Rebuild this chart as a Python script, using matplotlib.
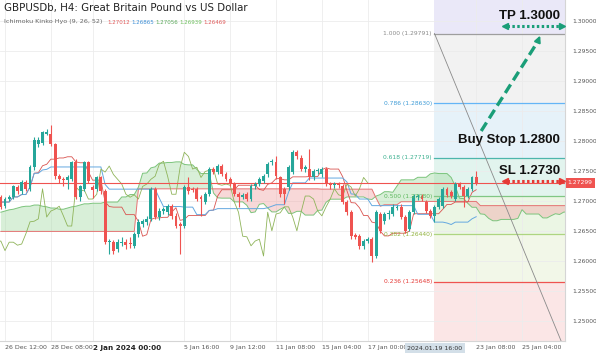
import numpy as np
import pandas as pd
import matplotlib.pyplot as plt

# H4 candles, 26 Dec 2023 .. 23 Jan 2024
opens = [1.2706, 1.2691, 1.2703, 1.2706, 1.2723, 1.2716, 1.2731, 1.2720, 1.2756, 1.2794,
         1.2797, 1.2812, 1.2811, 1.2794, 1.2741, 1.2736, 1.2734, 1.2736, 1.2764, 1.2706,
         1.2719, 1.2764, 1.2723, 1.2720, 1.2739, 1.2716, 1.2631, 1.2631, 1.2620, 1.2630,
         1.2631, 1.2630, 1.2625, 1.2645, 1.2661, 1.2665, 1.2670, 1.2720, 1.2673, 1.2683,
         1.2681, 1.2691, 1.2675, 1.2661, 1.2658, 1.2723, 1.2720, 1.2720, 1.2706, 1.2698,
         1.2711, 1.2753, 1.2748, 1.2758, 1.2744, 1.2736, 1.2728, 1.2711, 1.2706, 1.2711,
         1.2703, 1.2724, 1.2728, 1.2733, 1.2744, 1.2764, 1.2764, 1.2739, 1.2720, 1.2723,
         1.2748, 1.2781, 1.2772, 1.2753, 1.2753, 1.2739, 1.2749, 1.2744, 1.2753, 1.2728,
         1.2726, 1.2728, 1.2724, 1.2698, 1.2681, 1.2643, 1.2641, 1.2625, 1.2633, 1.2636,
         1.2608, 1.2678, 1.2666, 1.2678, 1.2678, 1.2688, 1.2690, 1.2673, 1.2653, 1.2681,
         1.2706, 1.2708, 1.2698, 1.2683, 1.2675, 1.2690, 1.2691, 1.2720, 1.2715, 1.2703,
         1.2728, 1.2723, 1.2708, 1.2720, 1.2739]
highs = [1.2710, 1.2706, 1.2710, 1.2727, 1.2727, 1.2735, 1.2734, 1.2760, 1.2806, 1.2806,
         1.2817, 1.2819, 1.2827, 1.2797, 1.2744, 1.2740, 1.2743, 1.2767, 1.2769, 1.2727,
         1.2767, 1.2767, 1.2726, 1.2742, 1.2742, 1.2719, 1.2636, 1.2634, 1.2636, 1.2640,
         1.2636, 1.2640, 1.2648, 1.2670, 1.2670, 1.2675, 1.2723, 1.2723, 1.2688, 1.2690,
         1.2695, 1.2695, 1.2680, 1.2664, 1.2726, 1.2739, 1.2723, 1.2723, 1.2710, 1.2715,
         1.2756, 1.2757, 1.2762, 1.2762, 1.2748, 1.2740, 1.2731, 1.2715, 1.2713, 1.2715,
         1.2728, 1.2731, 1.2740, 1.2745, 1.2765, 1.2770, 1.2775, 1.2742, 1.2723, 1.2760,
         1.2785, 1.2785, 1.2776, 1.2760, 1.2786, 1.2753, 1.2755, 1.2757, 1.2757, 1.2731,
         1.2731, 1.2731, 1.2728, 1.2701, 1.2685, 1.2646, 1.2645, 1.2637, 1.2640, 1.2640,
         1.2685, 1.2681, 1.2682, 1.2684, 1.2694, 1.2693, 1.2694, 1.2676, 1.2685, 1.2711,
         1.2711, 1.2711, 1.2701, 1.2686, 1.2693, 1.2706, 1.2723, 1.2723, 1.2718, 1.2731,
         1.2731, 1.2726, 1.2723, 1.2742, 1.2749]
lows = [1.2686, 1.2688, 1.2700, 1.2703, 1.2712, 1.2712, 1.2716, 1.2716, 1.2752, 1.2790,
        1.2793, 1.2809, 1.2791, 1.2737, 1.2730, 1.2725, 1.2720, 1.2733, 1.2703, 1.2700,
        1.2716, 1.2729, 1.2705, 1.2716, 1.2712, 1.2628, 1.2612, 1.2612, 1.2615, 1.2625,
        1.2620, 1.2622, 1.2622, 1.2640, 1.2657, 1.2660, 1.2666, 1.2670, 1.2668, 1.2678,
        1.2676, 1.2670, 1.2654, 1.2612, 1.2654, 1.2712, 1.2714, 1.2699, 1.2675, 1.2695,
        1.2708, 1.2744, 1.2744, 1.2741, 1.2733, 1.2725, 1.2708, 1.2690, 1.2703, 1.2699,
        1.2700, 1.2720, 1.2724, 1.2729, 1.2740, 1.2760, 1.2737, 1.2707, 1.2695, 1.2718,
        1.2744, 1.2770, 1.2749, 1.2748, 1.2735, 1.2735, 1.2745, 1.2740, 1.2724, 1.2720,
        1.2722, 1.2722, 1.2694, 1.2677, 1.2637, 1.2636, 1.2620, 1.2620, 1.2630, 1.2598,
        1.2605, 1.2646, 1.2662, 1.2670, 1.2674, 1.2685, 1.2670, 1.2646, 1.2649, 1.2678,
        1.2702, 1.2699, 1.2679, 1.2671, 1.2665, 1.2686, 1.2688, 1.2706, 1.2705, 1.2699,
        1.2719, 1.2690, 1.2704, 1.2716, 1.2726]
closes = [1.2690, 1.2703, 1.2706, 1.2724, 1.2716, 1.2731, 1.2720, 1.2756, 1.2802, 1.2801,
          1.2814, 1.2814, 1.2794, 1.2741, 1.2736, 1.2734, 1.2739, 1.2764, 1.2706, 1.2724,
          1.2764, 1.2733, 1.2718, 1.2739, 1.2716, 1.2631, 1.2633, 1.2617, 1.2631, 1.2631,
          1.2626, 1.2628, 1.2645, 1.2665, 1.2666, 1.2670, 1.2720, 1.2673, 1.2683, 1.2686,
          1.2691, 1.2675, 1.2658, 1.2658, 1.2723, 1.2716, 1.2718, 1.2703, 1.2703, 1.2711,
          1.2753, 1.2748, 1.2758, 1.2744, 1.2736, 1.2728, 1.2711, 1.2706, 1.2710, 1.2703,
          1.2724, 1.2728, 1.2736, 1.2741, 1.2761, 1.2766, 1.2741, 1.2711, 1.2711, 1.2756,
          1.2781, 1.2774, 1.2753, 1.2756, 1.2739, 1.2749, 1.2751, 1.2753, 1.2728, 1.2726,
          1.2728, 1.2726, 1.2698, 1.2681, 1.2641, 1.2640, 1.2625, 1.2633, 1.2636, 1.2608,
          1.2681, 1.2650, 1.2678, 1.2680, 1.2690, 1.2690, 1.2673, 1.2650, 1.2681, 1.2708,
          1.2708, 1.2703, 1.2683, 1.2675, 1.2690, 1.2703, 1.2720, 1.2710, 1.2708, 1.2728,
          1.2723, 1.2708, 1.2720, 1.2739, 1.2730]

# cloud values before the candles give them
span_a_early = [1.2681, 1.2683, 1.2685, 1.2686, 1.2688, 1.2690, 1.2691, 1.2691, 1.2693, 1.2693,
                1.2691, 1.2690, 1.2688, 1.2688, 1.2686, 1.2686, 1.2688, 1.2690, 1.2691, 1.2693,
                1.2695, 1.2695, 1.2696, 1.2696, 1.2696, 1.2698]
span_b_early = [1.2649] * 33 + [1.2720] * 44

last_price = 1.27299
fib_levels = [1.000, 0.786, 0.618, 0.500, 0.382, 0.236]
fib_prices = [1.29791, 1.28630, 1.27719, 1.27080, 1.26440, 1.25648]
fib_zero = 1.24369
fib_start = 104

tick_pos = [1, 12, 22, 44, 55, 66, 77, 88, 114, 125]
tick_labels = ['26 Dec 12:00', '28 Dec 08:00', '2 Jan 2024 00:00', '5 Jan 16:00', '9 Jan 12:00',
               '11 Jan 08:00', '15 Jan 04:00', '17 Jan 00:00', '23 Jan 08:00', '25 Jan 04:00']

header_vals = ['1.27012', '1.26865', '1.27056', '1.26939', '1.26469']

df = pd.DataFrame({'o': opens, 'h': highs, 'l': lows, 'c': closes})
n = len(df)
x = np.arange(n)

tenkan = (df.h.rolling(9, min_periods=1).max() + df.l.rolling(9, min_periods=1).min()) / 2
kijun = (df.h.rolling(26, min_periods=1).max() + df.l.rolling(26, min_periods=1).min()) / 2
mid52 = (df.h.rolling(52, min_periods=1).max() + df.l.rolling(52, min_periods=1).min()) / 2

span_a = np.concatenate([span_a_early, ((tenkan + kijun) / 2).values])
span_b = np.concatenate([span_b_early, mid52.values[51:]])
xs = np.arange(len(span_a))

fig = plt.figure(figsize=(5.96, 3.54), dpi=100)
ax = fig.add_axes([0, 13 / 354, 565 / 596, 341 / 354])
ax.set_xlim(-0.2, 135.3)
ax.set_ylim(1.24662, 1.30350)

# fibonacci zones
zone_cols = ['#eae8f8', '#f2f2f2', '#e6f2f9', '#e2f4ee', '#ebf6e4', '#f2f7e8', '#fbe6e6']
bounds = [1.31] + fib_prices + [1.24]
for k in range(len(zone_cols)):
    ax.fill_between([fib_start, 140], bounds[k + 1], bounds[k], color=zone_cols[k], lw=0, zorder=0)

ax.grid(color='#ececec', lw=0.6, zorder=0.5)
ax.set_axisbelow(True)

# cloud
ax.fill_between(xs, span_a, span_b, where=span_a >= span_b, interpolate=True,
                color='#a9dca9', alpha=0.45, lw=0, zorder=1)
ax.fill_between(xs, span_a, span_b, where=span_a < span_b, interpolate=True,
                color='#f0a9a9', alpha=0.45, lw=0, zorder=1)
ax.plot(xs, span_a, color='#7cc47c', lw=0.7, zorder=2)
ax.plot(xs, span_b, color='#e57373', lw=0.7, zorder=2)
ax.plot(x, tenkan, color='#d9534f', lw=0.6, zorder=2)
ax.plot(x, kijun, color='#64a8e0', lw=0.7, zorder=2)
ax.plot(x - 26, closes, color='#8fb45a', lw=0.6, zorder=2)

ax.axhline(last_price, color='#ef5350', lw=0.8, zorder=2.2)

fib_cols = ['#9e9e9e', '#64b5f6', '#4db6ac', '#81c784', '#aed581', '#ef5350']
fib_txt = ['#8a8a8a', '#3d9bd6', '#3bb08f', '#5cb85c', '#8fb03a', '#e53935']
for lv, pr, lc, tc in zip(fib_levels, fib_prices, fib_cols, fib_txt):
    ax.plot([fib_start, 140], [pr, pr], color=lc, lw=0.9, zorder=2.5)
    ax.text(fib_start - 0.6, pr, f'{lv:.3f} ({pr:.5f})', color=tc, fontsize=4.3,
            ha='right', va='center', zorder=6)
ax.plot([fib_start, 136.1], [fib_prices[0], fib_zero], color='#8a8a8a', lw=0.6, zorder=2.6)

# candles
o = df.o.values
c = df.c.values
up = c >= o
col = np.where(up, '#26a69a', '#ef5350')
ax.vlines(x, df.l, df.h, color=col, lw=0.8, zorder=3)
body = np.where(np.abs(c - o) < 4e-5, 4e-5, c - o)
ax.bar(x, body, bottom=o, width=0.7, color=col, lw=0, zorder=3.1)

# trade plan
ax.text(134.1, 1.30083, 'TP 1.3000', fontsize=9.5, fontweight='bold', family='Liberation Sans',
        ha='right', va='center', color='#111', zorder=7)
ax.text(134.1, 1.28015, 'Buy Stop 1.2800', fontsize=9.5, fontweight='bold', family='Liberation Sans',
        ha='right', va='center', color='#111', zorder=7)
ax.text(134.1, 1.27497, 'SL 1.2730', fontsize=9.5, fontweight='bold', family='Liberation Sans',
        ha='right', va='center', color='#111', zorder=7)

for yv, cc in [(1.29917, '#1a9e78'), (1.27331, '#e53935')]:
    ax.plot([121.5, 134.0], [yv, yv], color=cc, lw=2.2, ls=(0, (0.8, 0.8)), zorder=7, clip_on=False)
    ax.plot([121.0], [yv], marker='<', color=cc, ms=4, zorder=7, clip_on=False)
    ax.plot([134.6], [yv], marker='>', color=cc, ms=4, zorder=7, clip_on=False)

ax.plot([115.2, 128.8], [1.28165, 1.29660], color='#1a9e78', lw=2.4, ls=(0, (3, 1.5)), zorder=7)
ax.annotate('', xy=(129.6, 1.29800), xytext=(128.6, 1.29630),
            arrowprops=dict(arrowstyle='-|>', color='#1a9e78', lw=1.5, mutation_scale=9), zorder=7)

# axes styling
for s in ['top', 'left']:
    ax.spines[s].set_visible(False)
for s in ['right', 'bottom']:
    ax.spines[s].set_color('#d5d5d5')
    ax.spines[s].set_linewidth(0.8)

ax.yaxis.tick_right()
yt = np.arange(1.25, 1.3001, 0.005)
ax.set_yticks(yt)
ax.set_yticklabels([f'{v:.5f}' for v in yt])
ax.tick_params(axis='y', length=0, pad=5, labelsize=4.3, labelcolor='#555555')
ax.set_xticks(tick_pos)
ax.set_xticklabels(tick_labels)
ax.tick_params(axis='x', length=0, pad=3, labelsize=4.5, labelcolor='#555555')
for lbl in ax.get_xticklabels():
    lbl.set_ha('left')
    if lbl.get_text().startswith('2 Jan'):
        lbl.set_fontweight('bold')
        lbl.set_fontsize(5.2)
        lbl.set_color('#222222')

ax.annotate('1.27299', xy=(1.0, last_price), xycoords=('axes fraction', 'data'),
            xytext=(2, 0), textcoords='offset points', fontsize=4.3, color='white',
            ha='left', va='center',
            bbox=dict(boxstyle='square,pad=0.35', fc='#ef5350', ec='none'))

fig.text(435 / 596, 1 - 348 / 354, '2024.01.19 16:00', fontsize=4.5, color='#333333',
         ha='center', va='center',
         bbox=dict(boxstyle='square,pad=0.45', fc='#d3dfe8', ec='none'))

# header
fig.text(4 / 596, 1 - 8 / 354, 'GBPUSDb, H4: Great Britain Pound vs US Dollar',
         fontsize=7.4, color='#222222', ha='left', va='center')
fig.text(4 / 596, 1 - 22 / 354, 'Ichimoku Kinko Hyo (9, 26, 52)',
         fontsize=4.6, color='#666666', ha='left', va='center')
vcols = ['#e05a5a', '#3d8fd6', '#5aa85a', '#6dbf5d', '#e05a5a']
for k, (v, vc) in enumerate(zip(header_vals, vcols)):
    fig.text((107 + 24 * k) / 596, 1 - 22 / 354, v, fontsize=4.0, color=vc, ha='left', va='center')

fig.savefig('out.png', dpi=100)
